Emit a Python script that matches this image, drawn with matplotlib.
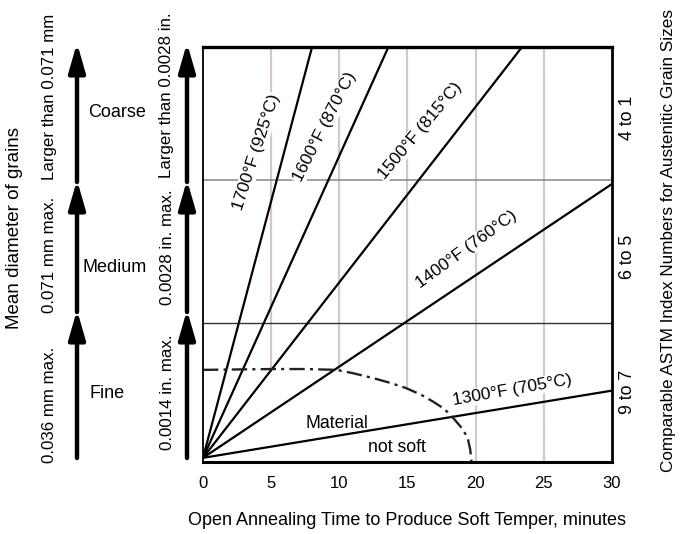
import numpy as np
import matplotlib
matplotlib.use("Agg")
import matplotlib.pyplot as plt

plt.rcParams['font.family'] = ['Liberation Sans', 'DejaVu Sans']
plt.rcParams['font.size'] = 12

# straight lines, all start near the origin
temps = ['1700°F (925°C)', '1600°F (870°C)', '1500°F (815°C)', '1400°F (760°C)', '1300°F (705°C)']
start_y = 1.0
end_x = [8.0, 13.6, 23.4, 30.0, 30.0]
end_y = [100, 100, 100, 67.0, 17.2]

# label spots for each line (x, y, angle)
lab_x = [3.9, 8.9, 15.9, 19.3, 22.7]
lab_y = [74.7, 80.7, 79.8, 51.2, 17.3]
lab_rot = [72, 63, 50, 36, 10]

# "material not soft" boundary
curve_x = [0, 5, 7.5, 9.8, 11, 12.5, 13.7, 14.9, 16, 16.9, 17.7, 18.3, 18.9, 19.4, 19.6, 19.7]
curve_y = [22.2, 22.4, 22.4, 22.2, 21.4, 20.2, 19.1, 17.8, 16.2, 14.5, 12.8, 10.8, 8.5, 6.0, 3.0, 0]

grid_x = [5, 10, 15, 20, 25]
coarse_y = 68.0
fine_y = 33.6
xticks = [0, 5, 10, 15, 20, 25, 30]

W, H = 680, 534
fig = plt.figure(figsize=(6.8, 5.34), dpi=100)
ax = fig.add_axes([203 / W, 1 - 462 / H, 409 / W, 415 / H])
ax.set_xlim(0, 30)
ax.set_ylim(0, 100)

# vertical grid, stops at the dash-dot curve
for gx in grid_x:
    ymin = np.interp(gx, curve_x, curve_y)
    ax.plot([gx, gx], [ymin, 100], color='#d2c8c8', lw=1.6, zorder=1)

ax.axhline(coarse_y, color='#8a8484', lw=1.1, zorder=1.5)
ax.axhline(fine_y, color='#333333', lw=1.0, zorder=1.5)

for i in range(len(temps)):
    ax.plot([0, end_x[i]], [start_y, end_y[i]], color='black', lw=1.6, zorder=3,
            solid_capstyle='butt')
    ax.text(lab_x[i], lab_y[i], temps[i], rotation=lab_rot[i], ha='center', va='center',
            rotation_mode='anchor', fontsize=12.5, zorder=2.5,
            bbox=dict(facecolor='white', edgecolor='none', pad=0.8))

ax.plot(curve_x, curve_y, color='#222222', lw=1.7, dashes=[6.5, 2.2, 1.3, 2.2], zorder=3)

ax.text(9.8, 9.2, 'Material', ha='center', va='center', fontsize=12.7, zorder=2.5)
ax.text(14.2, 3.6, 'not soft', ha='center', va='center', fontsize=12.7, zorder=2.5)

ax.set_xticks(xticks)
ax.set_yticks([])
ax.tick_params(length=0, pad=10, labelsize=12)
ax.spines['top'].set_linewidth(2.4)
ax.spines['right'].set_linewidth(2.0)
ax.spines['bottom'].set_linewidth(2.2)
ax.spines['left'].set_linewidth(1.3)
for s in ax.spines.values():
    s.set_zorder(4)
ax.set_xlabel('Open Annealing Time to Produce Soft Temper, minutes', fontsize=13, labelpad=15)

# right side: ASTM numbers
def fx(px):
    return px / W

def fy(py):
    return 1 - py / H

astm = ['4 to 1', '6 to 5', '9 to 7']
astm_py = [118, 257, 392]
for t, py in zip(astm, astm_py):
    fig.text(fx(628), fy(py), t, rotation=90, ha='center', va='center', fontsize=12.8)
fig.text(fx(668), fy(240), 'Comparable ASTM Index Numbers for Austenitic Grain Sizes',
         rotation=90, ha='center', va='center', fontsize=12.3)

# left side: grain sizes with arrows
arrow_seg = [(458, 310), (312, 180), (182, 43)]
for ax_px in [77, 187]:
    for base, tip in arrow_seg:
        fig.add_artist(matplotlib.patches.FancyArrowPatch(
            (fx(ax_px), fy(base)), (fx(ax_px), fy(tip)), transform=fig.transFigure,
            arrowstyle='-|>,head_length=1.25,head_width=0.36', mutation_scale=14,
            lw=3.2, color='black', shrinkA=0, shrinkB=0))

fig.text(fx(15), fy(228), 'Mean diameter of grains', rotation=90, ha='center', va='center', fontsize=13.5)

mm_labels = ['0.036 mm max.', '0.071 mm max.', 'Larger than 0.071 mm']
mm_py = [405, 255, 97]
for t, py in zip(mm_labels, mm_py):
    fig.text(fx(50), fy(py), t, rotation=90, ha='center', va='center', fontsize=12.2)

in_labels = ['0.0014 in. max.', '0.0028 in. max.', 'Larger than 0.0028 in.']
in_py = [392, 247, 95]
for t, py in zip(in_labels, in_py):
    fig.text(fx(167), fy(py), t, rotation=90, ha='center', va='center', fontsize=12.2)

sizes = ['Coarse', 'Medium', 'Fine']
size_px = [(117, 112), (115, 267), (107, 393)]
for t, (px, py) in zip(sizes, size_px):
    fig.text(fx(px), fy(py), t, ha='center', va='center', fontsize=13)

fig.savefig('out.png', dpi=100)
